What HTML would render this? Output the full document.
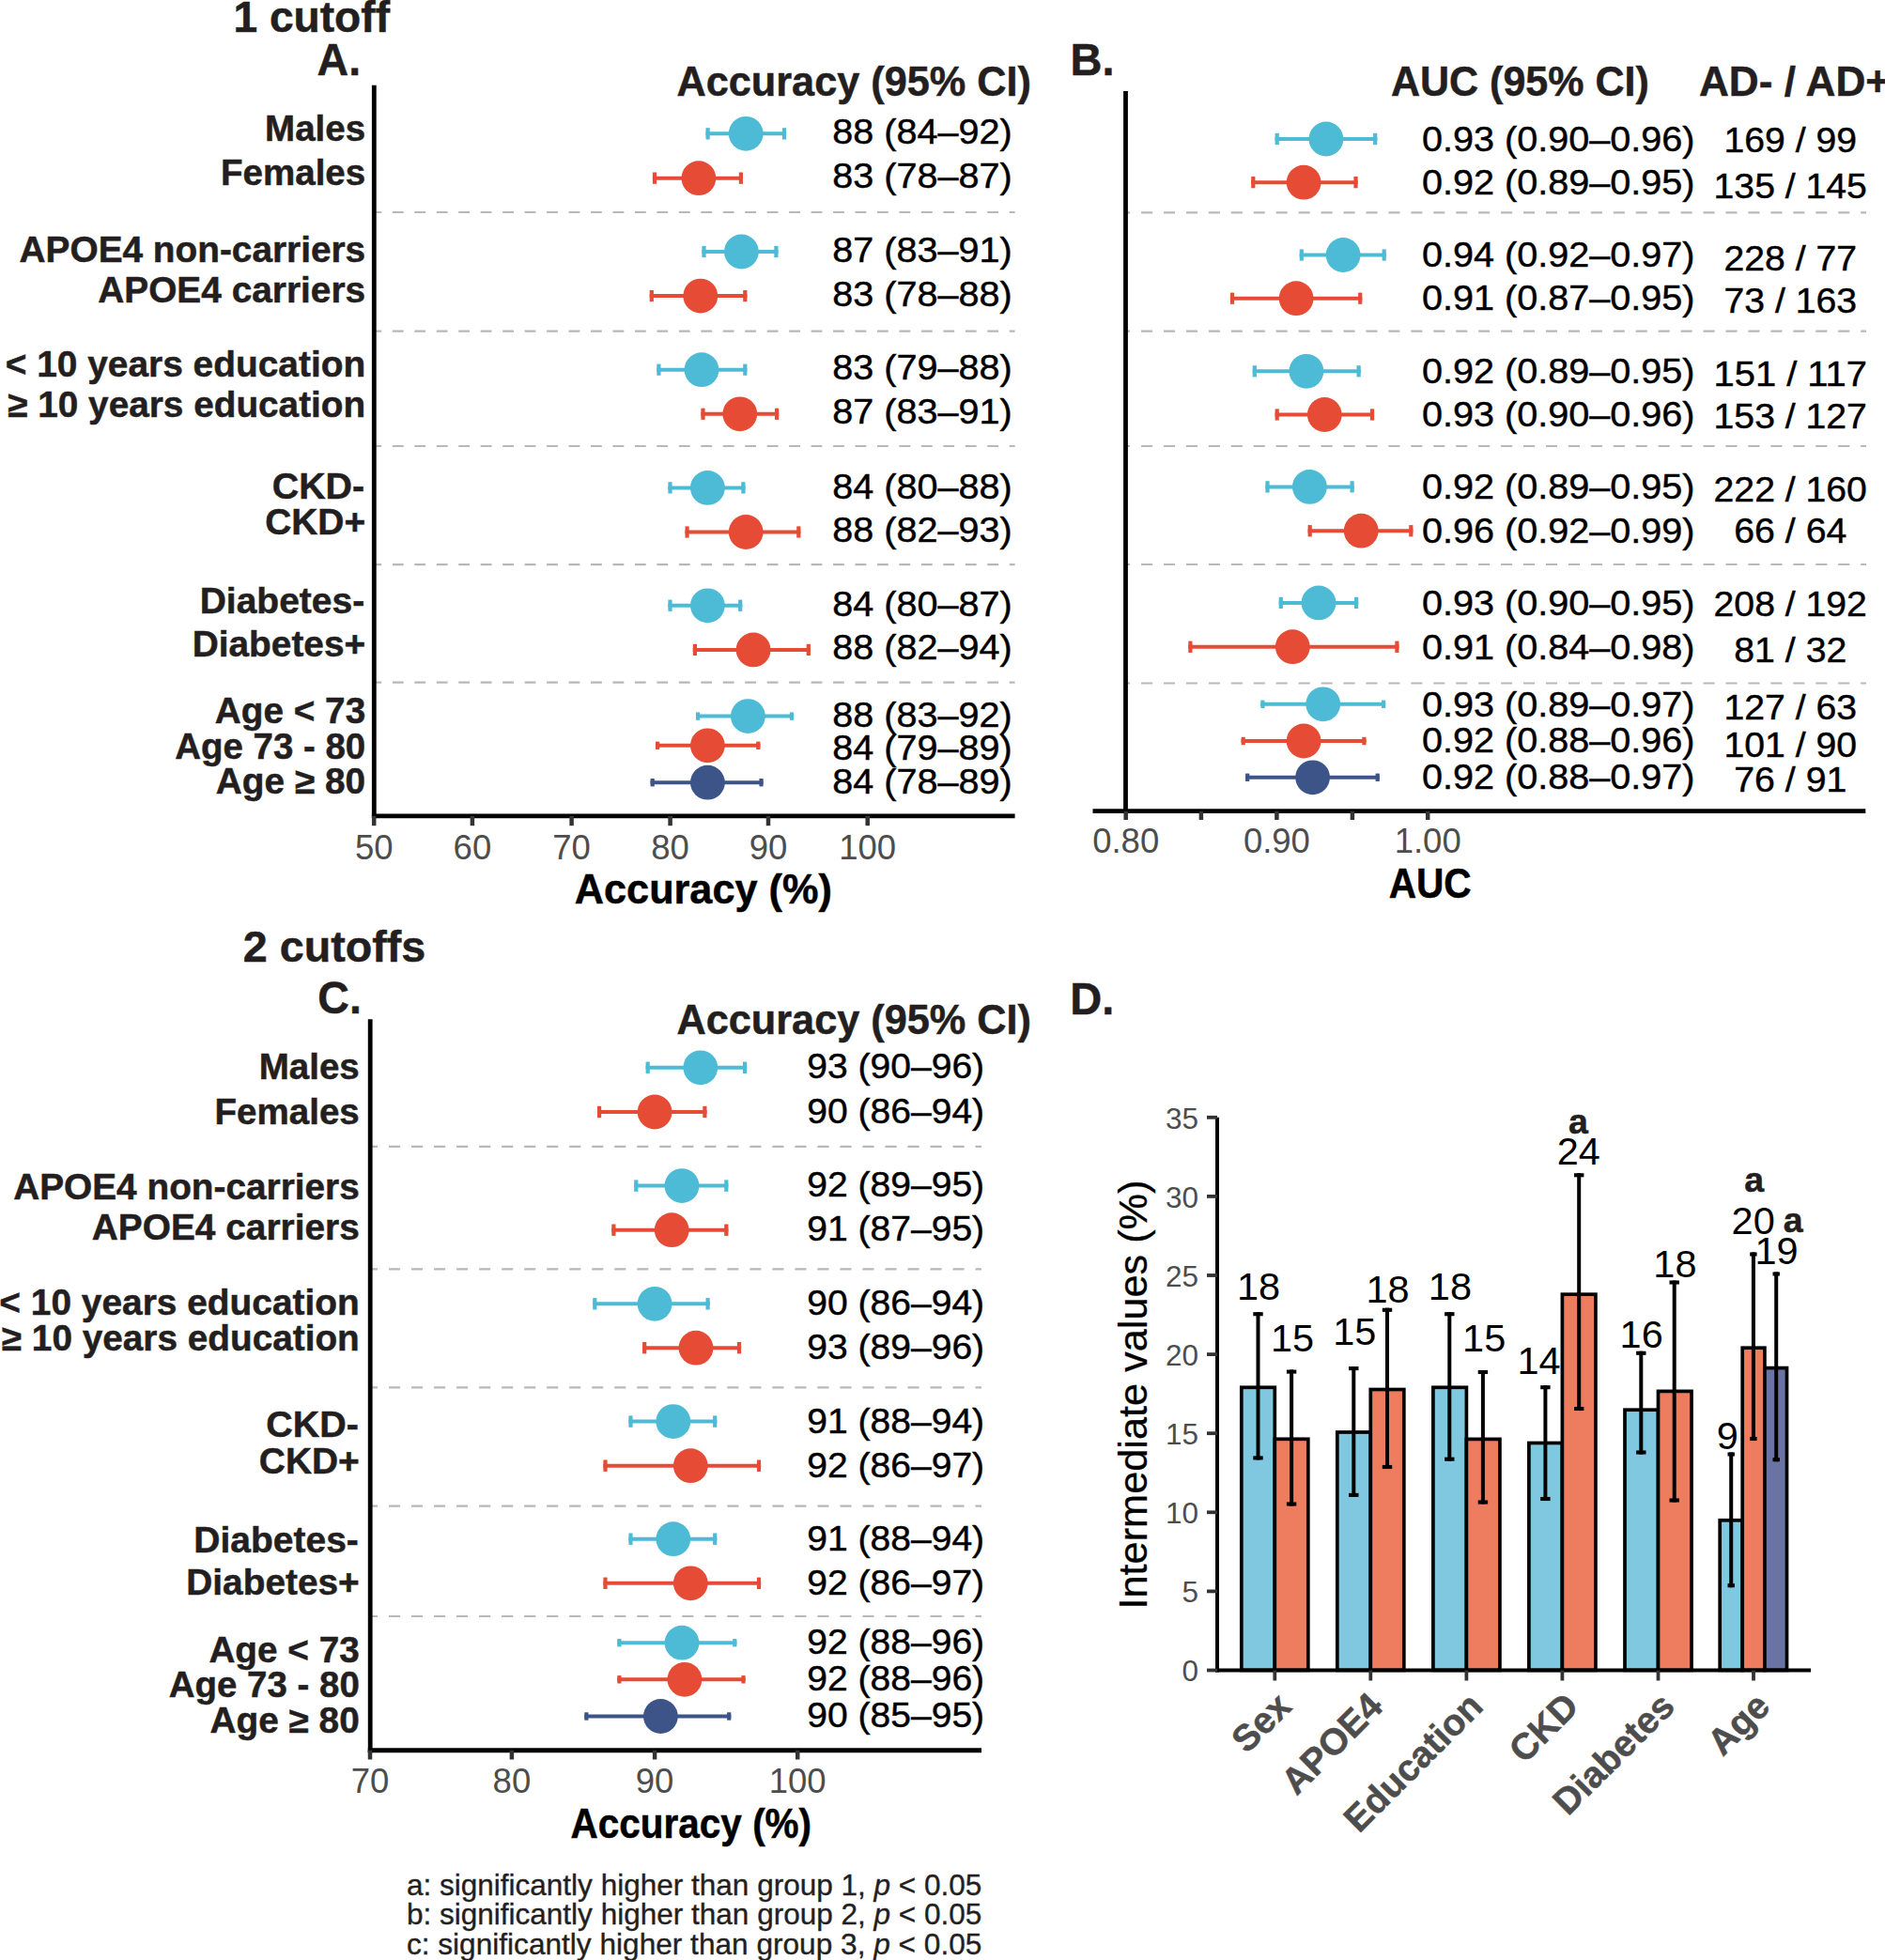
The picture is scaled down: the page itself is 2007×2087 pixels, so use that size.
<!DOCTYPE html>
<html lang="en">
<head>
<meta charset="utf-8">
<title>Figure: subgroup performance</title>
<style>
html,body{margin:0;padding:0;background:#fff;}
body{width:2007px;height:2087px;overflow:hidden;}
svg{display:block;font-family:"Liberation Sans",Arial,Helvetica,sans-serif;}
</style>
</head>
<body>
<svg width="2007" height="2087" viewBox="0 0 2007 2087">
<rect width="2007" height="2087" fill="#fff"/>
<text x="248.5" y="34.4" font-size="45.5" font-weight="700" fill="#231F20" textLength="166.5" lengthAdjust="spacingAndGlyphs" stroke="#231F20" stroke-width="0.5">1 cutoff</text>
<text x="337.6" y="79.6" font-size="47.5" font-weight="700" fill="#231F20" textLength="46.5" lengthAdjust="spacingAndGlyphs" stroke="#231F20" stroke-width="0.5">A.</text>
<text x="720.5" y="102.2" font-size="44" font-weight="700" fill="#231F20" textLength="377.5" lengthAdjust="spacingAndGlyphs" stroke="#231F20" stroke-width="0.5">Accuracy (95% CI)</text>
<text x="282.1" y="149.9" font-size="38.5" font-weight="700" fill="#231F20" textLength="107.1" lengthAdjust="spacingAndGlyphs" stroke="#231F20" stroke-width="0.5">Males</text>
<text x="235.0" y="197.0" font-size="38.5" font-weight="700" fill="#231F20" textLength="154.2" lengthAdjust="spacingAndGlyphs" stroke="#231F20" stroke-width="0.5">Females</text>
<text x="20.6" y="279.2" font-size="38.5" font-weight="700" fill="#231F20" textLength="368.6" lengthAdjust="spacingAndGlyphs" stroke="#231F20" stroke-width="0.5">APOE4 non-carriers</text>
<text x="104.2" y="322.2" font-size="38.5" font-weight="700" fill="#231F20" textLength="285.0" lengthAdjust="spacingAndGlyphs" stroke="#231F20" stroke-width="0.5">APOE4 carriers</text>
<text x="5.7" y="401.1" font-size="38.5" font-weight="700" fill="#231F20" textLength="383.5" lengthAdjust="spacingAndGlyphs" stroke="#231F20" stroke-width="0.5">&lt; 10 years education</text>
<text x="8.2" y="444.1" font-size="38.5" font-weight="700" fill="#231F20" textLength="381.0" lengthAdjust="spacingAndGlyphs" stroke="#231F20" stroke-width="0.5">≥ 10 years education</text>
<text x="289.7" y="530.8" font-size="38.5" font-weight="700" fill="#231F20" textLength="98.5" lengthAdjust="spacingAndGlyphs" stroke="#231F20" stroke-width="0.5">CKD-</text>
<text x="282.2" y="569.4" font-size="38.5" font-weight="700" fill="#231F20" textLength="107.0" lengthAdjust="spacingAndGlyphs" stroke="#231F20" stroke-width="0.5">CKD+</text>
<text x="212.7" y="653.0" font-size="38.5" font-weight="700" fill="#231F20" textLength="175.5" lengthAdjust="spacingAndGlyphs" stroke="#231F20" stroke-width="0.5">Diabetes-</text>
<text x="204.7" y="699.0" font-size="38.5" font-weight="700" fill="#231F20" textLength="184.5" lengthAdjust="spacingAndGlyphs" stroke="#231F20" stroke-width="0.5">Diabetes+</text>
<text x="228.8" y="769.9" font-size="38.5" font-weight="700" fill="#231F20" textLength="160.4" lengthAdjust="spacingAndGlyphs" stroke="#231F20" stroke-width="0.5">Age &lt; 73</text>
<text x="186.2" y="807.8" font-size="38.5" font-weight="700" fill="#231F20" textLength="203.0" lengthAdjust="spacingAndGlyphs" stroke="#231F20" stroke-width="0.5">Age 73 - 80</text>
<text x="229.8" y="845.4" font-size="38.5" font-weight="700" fill="#231F20" textLength="159.4" lengthAdjust="spacingAndGlyphs" stroke="#231F20" stroke-width="0.5">Age ≥ 80</text>
<line x1="398.3" y1="226.0" x2="1080.6" y2="226.0" stroke="#B8B8B8" stroke-width="2.2" stroke-dasharray="11.83 11.63" stroke-dashoffset="3.90"/>
<line x1="398.3" y1="352.7" x2="1080.6" y2="352.7" stroke="#B8B8B8" stroke-width="2.2" stroke-dasharray="11.83 11.63" stroke-dashoffset="3.90"/>
<line x1="398.3" y1="475.0" x2="1080.6" y2="475.0" stroke="#B8B8B8" stroke-width="2.2" stroke-dasharray="11.83 11.63" stroke-dashoffset="3.90"/>
<line x1="398.3" y1="601.2" x2="1080.6" y2="601.2" stroke="#B8B8B8" stroke-width="2.2" stroke-dasharray="11.83 11.63" stroke-dashoffset="3.90"/>
<line x1="398.3" y1="726.6" x2="1080.6" y2="726.6" stroke="#B8B8B8" stroke-width="2.2" stroke-dasharray="11.83 11.63" stroke-dashoffset="3.90"/>
<line x1="751.5" y1="142.3" x2="837.1" y2="142.3" stroke="#4DBBD5" stroke-width="4.0"/>
<line x1="753.6" y1="136.2" x2="753.6" y2="148.5" stroke="#4DBBD5" stroke-width="4.2"/>
<line x1="835.0" y1="136.2" x2="835.0" y2="148.5" stroke="#4DBBD5" stroke-width="4.2"/>
<circle cx="794.2" cy="142.3" r="18.4" fill="#4DBBD5"/>
<line x1="694.9" y1="189.7" x2="791.0" y2="189.7" stroke="#E64B35" stroke-width="4.0"/>
<line x1="697.0" y1="183.5" x2="697.0" y2="195.8" stroke="#E64B35" stroke-width="4.2"/>
<line x1="788.9" y1="183.5" x2="788.9" y2="195.8" stroke="#E64B35" stroke-width="4.2"/>
<circle cx="743.9" cy="189.7" r="18.4" fill="#E64B35"/>
<line x1="747.4" y1="268.0" x2="828.5" y2="268.0" stroke="#4DBBD5" stroke-width="4.0"/>
<line x1="749.5" y1="261.9" x2="749.5" y2="274.1" stroke="#4DBBD5" stroke-width="4.2"/>
<line x1="826.4" y1="261.9" x2="826.4" y2="274.1" stroke="#4DBBD5" stroke-width="4.2"/>
<circle cx="789.4" cy="268.0" r="18.4" fill="#4DBBD5"/>
<line x1="691.7" y1="315.1" x2="795.4" y2="315.1" stroke="#E64B35" stroke-width="4.0"/>
<line x1="693.8" y1="309.0" x2="693.8" y2="321.2" stroke="#E64B35" stroke-width="4.2"/>
<line x1="793.3" y1="309.0" x2="793.3" y2="321.2" stroke="#E64B35" stroke-width="4.2"/>
<circle cx="745.8" cy="315.1" r="18.4" fill="#E64B35"/>
<line x1="699.3" y1="393.7" x2="795.4" y2="393.7" stroke="#4DBBD5" stroke-width="4.0"/>
<line x1="701.4" y1="387.6" x2="701.4" y2="399.8" stroke="#4DBBD5" stroke-width="4.2"/>
<line x1="793.3" y1="387.6" x2="793.3" y2="399.8" stroke="#4DBBD5" stroke-width="4.2"/>
<circle cx="747.0" cy="393.7" r="18.4" fill="#4DBBD5"/>
<line x1="746.4" y1="440.8" x2="829.2" y2="440.8" stroke="#E64B35" stroke-width="4.0"/>
<line x1="748.5" y1="434.7" x2="748.5" y2="446.9" stroke="#E64B35" stroke-width="4.2"/>
<line x1="827.1" y1="434.7" x2="827.1" y2="446.9" stroke="#E64B35" stroke-width="4.2"/>
<circle cx="787.8" cy="440.8" r="18.4" fill="#E64B35"/>
<line x1="711.4" y1="519.4" x2="793.5" y2="519.4" stroke="#4DBBD5" stroke-width="4.0"/>
<line x1="713.5" y1="513.2" x2="713.5" y2="525.5" stroke="#4DBBD5" stroke-width="4.2"/>
<line x1="791.4" y1="513.2" x2="791.4" y2="525.5" stroke="#4DBBD5" stroke-width="4.2"/>
<circle cx="753.4" cy="519.4" r="18.4" fill="#4DBBD5"/>
<line x1="729.5" y1="566.5" x2="852.4" y2="566.5" stroke="#E64B35" stroke-width="4.0"/>
<line x1="731.6" y1="560.4" x2="731.6" y2="572.6" stroke="#E64B35" stroke-width="4.2"/>
<line x1="850.3" y1="560.4" x2="850.3" y2="572.6" stroke="#E64B35" stroke-width="4.2"/>
<circle cx="794.2" cy="566.5" r="18.4" fill="#E64B35"/>
<line x1="711.4" y1="644.8" x2="790.3" y2="644.8" stroke="#4DBBD5" stroke-width="4.0"/>
<line x1="713.5" y1="638.6" x2="713.5" y2="650.9" stroke="#4DBBD5" stroke-width="4.2"/>
<line x1="788.2" y1="638.6" x2="788.2" y2="650.9" stroke="#4DBBD5" stroke-width="4.2"/>
<circle cx="753.4" cy="644.8" r="18.4" fill="#4DBBD5"/>
<line x1="737.8" y1="691.9" x2="862.9" y2="691.9" stroke="#E64B35" stroke-width="4.0"/>
<line x1="739.9" y1="685.8" x2="739.9" y2="698.0" stroke="#E64B35" stroke-width="4.2"/>
<line x1="860.8" y1="685.8" x2="860.8" y2="698.0" stroke="#E64B35" stroke-width="4.2"/>
<circle cx="802.1" cy="691.9" r="18.4" fill="#E64B35"/>
<line x1="741.0" y1="762.6" x2="845.1" y2="762.6" stroke="#4DBBD5" stroke-width="4.0"/>
<line x1="743.1" y1="758.4" x2="743.1" y2="766.8" stroke="#4DBBD5" stroke-width="4.2"/>
<line x1="843.0" y1="758.4" x2="843.0" y2="766.8" stroke="#4DBBD5" stroke-width="4.2"/>
<circle cx="796.4" cy="762.6" r="18.4" fill="#4DBBD5"/>
<line x1="698.0" y1="793.8" x2="809.4" y2="793.8" stroke="#E64B35" stroke-width="4.0"/>
<line x1="700.1" y1="789.6" x2="700.1" y2="798.0" stroke="#E64B35" stroke-width="4.2"/>
<line x1="807.3" y1="789.6" x2="807.3" y2="798.0" stroke="#E64B35" stroke-width="4.2"/>
<circle cx="753.4" cy="793.8" r="18.4" fill="#E64B35"/>
<line x1="692.6" y1="833.2" x2="812.6" y2="833.2" stroke="#3C5488" stroke-width="4.0"/>
<line x1="694.7" y1="829.0" x2="694.7" y2="837.4" stroke="#3C5488" stroke-width="4.2"/>
<line x1="810.5" y1="829.0" x2="810.5" y2="837.4" stroke="#3C5488" stroke-width="4.2"/>
<circle cx="753.4" cy="833.2" r="18.4" fill="#3C5488"/>
<text x="886.2" y="153.1" font-size="37.5" font-weight="400" fill="#000" textLength="191.5" lengthAdjust="spacingAndGlyphs" stroke="#000" stroke-width="0.45">88 (84–92)</text>
<text x="886.2" y="200.2" font-size="37.5" font-weight="400" fill="#000" textLength="191.5" lengthAdjust="spacingAndGlyphs" stroke="#000" stroke-width="0.45">83 (78–87)</text>
<text x="886.2" y="278.8" font-size="37.5" font-weight="400" fill="#000" textLength="191.5" lengthAdjust="spacingAndGlyphs" stroke="#000" stroke-width="0.45">87 (83–91)</text>
<text x="886.2" y="325.6" font-size="37.5" font-weight="400" fill="#000" textLength="191.5" lengthAdjust="spacingAndGlyphs" stroke="#000" stroke-width="0.45">83 (78–88)</text>
<text x="886.2" y="403.6" font-size="37.5" font-weight="400" fill="#000" textLength="191.5" lengthAdjust="spacingAndGlyphs" stroke="#000" stroke-width="0.45">83 (79–88)</text>
<text x="886.2" y="450.7" font-size="37.5" font-weight="400" fill="#000" textLength="191.5" lengthAdjust="spacingAndGlyphs" stroke="#000" stroke-width="0.45">87 (83–91)</text>
<text x="886.2" y="530.5" font-size="37.5" font-weight="400" fill="#000" textLength="191.5" lengthAdjust="spacingAndGlyphs" stroke="#000" stroke-width="0.45">84 (80–88)</text>
<text x="886.2" y="577.0" font-size="37.5" font-weight="400" fill="#000" textLength="191.5" lengthAdjust="spacingAndGlyphs" stroke="#000" stroke-width="0.45">88 (82–93)</text>
<text x="886.2" y="655.6" font-size="37.5" font-weight="400" fill="#000" textLength="191.5" lengthAdjust="spacingAndGlyphs" stroke="#000" stroke-width="0.45">84 (80–87)</text>
<text x="886.2" y="702.4" font-size="37.5" font-weight="400" fill="#000" textLength="191.5" lengthAdjust="spacingAndGlyphs" stroke="#000" stroke-width="0.45">88 (82–94)</text>
<text x="886.2" y="773.9" font-size="37.5" font-weight="400" fill="#000" textLength="191.5" lengthAdjust="spacingAndGlyphs" stroke="#000" stroke-width="0.45">88 (83–92)</text>
<text x="886.2" y="808.9" font-size="37.5" font-weight="400" fill="#000" textLength="191.5" lengthAdjust="spacingAndGlyphs" stroke="#000" stroke-width="0.45">84 (79–89)</text>
<text x="886.2" y="844.6" font-size="37.5" font-weight="400" fill="#000" textLength="191.5" lengthAdjust="spacingAndGlyphs" stroke="#000" stroke-width="0.45">84 (78–89)</text>
<line x1="398.3" y1="90.7" x2="398.3" y2="871.3" stroke="#000" stroke-width="4.8"/>
<line x1="395.9" y1="868.9" x2="1080.6" y2="868.9" stroke="#000" stroke-width="4.8"/>
<line x1="398.2" y1="868.9" x2="398.2" y2="879.2" stroke="#333" stroke-width="4.5"/>
<text x="398.2" y="915.2" font-size="36.5" font-weight="400" fill="#4D4D4D" text-anchor="middle">50</text>
<line x1="502.9" y1="868.9" x2="502.9" y2="879.2" stroke="#333" stroke-width="4.5"/>
<text x="502.9" y="915.2" font-size="36.5" font-weight="400" fill="#4D4D4D" text-anchor="middle">60</text>
<line x1="608.6" y1="868.9" x2="608.6" y2="879.2" stroke="#333" stroke-width="4.5"/>
<text x="608.6" y="915.2" font-size="36.5" font-weight="400" fill="#4D4D4D" text-anchor="middle">70</text>
<line x1="713.6" y1="868.9" x2="713.6" y2="879.2" stroke="#333" stroke-width="4.5"/>
<text x="713.6" y="915.2" font-size="36.5" font-weight="400" fill="#4D4D4D" text-anchor="middle">80</text>
<line x1="818.0" y1="868.9" x2="818.0" y2="879.2" stroke="#333" stroke-width="4.5"/>
<text x="818.0" y="915.2" font-size="36.5" font-weight="400" fill="#4D4D4D" text-anchor="middle">90</text>
<line x1="923.7" y1="868.9" x2="923.7" y2="879.2" stroke="#333" stroke-width="4.5"/>
<text x="923.7" y="915.2" font-size="36.5" font-weight="400" fill="#4D4D4D" text-anchor="middle">100</text>
<text x="611.8" y="962.3" font-size="44" font-weight="700" fill="#000" textLength="274.0" lengthAdjust="spacingAndGlyphs" stroke="#000" stroke-width="0.5">Accuracy (%)</text>
<text x="1139.5" y="79.6" font-size="47.5" font-weight="700" fill="#231F20" textLength="47.0" lengthAdjust="spacingAndGlyphs" stroke="#231F20" stroke-width="0.5">B.</text>
<text x="1481.0" y="101.9" font-size="44" font-weight="700" fill="#231F20" textLength="274.8" lengthAdjust="spacingAndGlyphs" stroke="#231F20" stroke-width="0.5">AUC (95% CI)</text>
<text x="1809.0" y="101.9" font-size="44" font-weight="700" fill="#231F20" textLength="203.0" lengthAdjust="spacingAndGlyphs" stroke="#231F20" stroke-width="0.5">AD- / AD+</text>
<line x1="1198.5" y1="226.3" x2="1987.0" y2="226.3" stroke="#B8B8B8" stroke-width="2.2" stroke-dasharray="12.07 11.87" stroke-dashoffset="7.40"/>
<line x1="1198.5" y1="352.6" x2="1987.0" y2="352.6" stroke="#B8B8B8" stroke-width="2.2" stroke-dasharray="12.07 11.87" stroke-dashoffset="7.40"/>
<line x1="1198.5" y1="475.0" x2="1987.0" y2="475.0" stroke="#B8B8B8" stroke-width="2.2" stroke-dasharray="12.07 11.87" stroke-dashoffset="7.40"/>
<line x1="1198.5" y1="601.0" x2="1987.0" y2="601.0" stroke="#B8B8B8" stroke-width="2.2" stroke-dasharray="12.07 11.87" stroke-dashoffset="7.40"/>
<line x1="1198.5" y1="727.5" x2="1987.0" y2="727.5" stroke="#B8B8B8" stroke-width="2.2" stroke-dasharray="12.07 11.87" stroke-dashoffset="7.40"/>
<line x1="1357.6" y1="148.0" x2="1466.3" y2="148.0" stroke="#4DBBD5" stroke-width="4.0"/>
<line x1="1359.7" y1="141.8" x2="1359.7" y2="154.2" stroke="#4DBBD5" stroke-width="4.2"/>
<line x1="1464.2" y1="141.8" x2="1464.2" y2="154.2" stroke="#4DBBD5" stroke-width="4.2"/>
<circle cx="1411.9" cy="148.0" r="18.4" fill="#4DBBD5"/>
<line x1="1332.2" y1="194.2" x2="1445.6" y2="194.2" stroke="#E64B35" stroke-width="4.0"/>
<line x1="1334.3" y1="188.0" x2="1334.3" y2="200.3" stroke="#E64B35" stroke-width="4.2"/>
<line x1="1443.5" y1="188.0" x2="1443.5" y2="200.3" stroke="#E64B35" stroke-width="4.2"/>
<circle cx="1388.1" cy="194.2" r="18.4" fill="#E64B35"/>
<line x1="1383.7" y1="271.5" x2="1475.8" y2="271.5" stroke="#4DBBD5" stroke-width="4.0"/>
<line x1="1385.8" y1="265.4" x2="1385.8" y2="277.6" stroke="#4DBBD5" stroke-width="4.2"/>
<line x1="1473.7" y1="265.4" x2="1473.7" y2="277.6" stroke="#4DBBD5" stroke-width="4.2"/>
<circle cx="1430.1" cy="271.5" r="18.4" fill="#4DBBD5"/>
<line x1="1309.9" y1="317.7" x2="1450.3" y2="317.7" stroke="#E64B35" stroke-width="4.0"/>
<line x1="1312.0" y1="311.6" x2="1312.0" y2="323.8" stroke="#E64B35" stroke-width="4.2"/>
<line x1="1448.2" y1="311.6" x2="1448.2" y2="323.8" stroke="#E64B35" stroke-width="4.2"/>
<circle cx="1380.1" cy="317.7" r="18.4" fill="#E64B35"/>
<line x1="1333.7" y1="395.3" x2="1448.7" y2="395.3" stroke="#4DBBD5" stroke-width="4.0"/>
<line x1="1335.8" y1="389.2" x2="1335.8" y2="401.4" stroke="#4DBBD5" stroke-width="4.2"/>
<line x1="1446.6" y1="389.2" x2="1446.6" y2="401.4" stroke="#4DBBD5" stroke-width="4.2"/>
<circle cx="1390.9" cy="395.3" r="18.4" fill="#4DBBD5"/>
<line x1="1357.6" y1="441.5" x2="1463.1" y2="441.5" stroke="#E64B35" stroke-width="4.0"/>
<line x1="1359.7" y1="435.4" x2="1359.7" y2="447.6" stroke="#E64B35" stroke-width="4.2"/>
<line x1="1461.0" y1="435.4" x2="1461.0" y2="447.6" stroke="#E64B35" stroke-width="4.2"/>
<circle cx="1410.3" cy="441.5" r="18.4" fill="#E64B35"/>
<line x1="1347.4" y1="518.4" x2="1441.7" y2="518.4" stroke="#4DBBD5" stroke-width="4.0"/>
<line x1="1349.5" y1="512.2" x2="1349.5" y2="524.5" stroke="#4DBBD5" stroke-width="4.2"/>
<line x1="1439.6" y1="512.2" x2="1439.6" y2="524.5" stroke="#4DBBD5" stroke-width="4.2"/>
<circle cx="1394.4" cy="518.4" r="18.4" fill="#4DBBD5"/>
<line x1="1392.6" y1="565.2" x2="1504.4" y2="565.2" stroke="#E64B35" stroke-width="4.0"/>
<line x1="1394.7" y1="559.1" x2="1394.7" y2="571.4" stroke="#E64B35" stroke-width="4.2"/>
<line x1="1502.3" y1="559.1" x2="1502.3" y2="571.4" stroke="#E64B35" stroke-width="4.2"/>
<circle cx="1449.2" cy="565.2" r="18.4" fill="#E64B35"/>
<line x1="1361.7" y1="641.9" x2="1446.2" y2="641.9" stroke="#4DBBD5" stroke-width="4.0"/>
<line x1="1363.8" y1="635.8" x2="1363.8" y2="648.0" stroke="#4DBBD5" stroke-width="4.2"/>
<line x1="1444.1" y1="635.8" x2="1444.1" y2="648.0" stroke="#4DBBD5" stroke-width="4.2"/>
<circle cx="1404.0" cy="641.9" r="18.4" fill="#4DBBD5"/>
<line x1="1265.3" y1="688.7" x2="1489.5" y2="688.7" stroke="#E64B35" stroke-width="4.0"/>
<line x1="1267.4" y1="682.6" x2="1267.4" y2="694.9" stroke="#E64B35" stroke-width="4.2"/>
<line x1="1487.4" y1="682.6" x2="1487.4" y2="694.9" stroke="#E64B35" stroke-width="4.2"/>
<circle cx="1376.3" cy="688.7" r="18.4" fill="#E64B35"/>
<line x1="1342.3" y1="749.8" x2="1475.2" y2="749.8" stroke="#4DBBD5" stroke-width="4.0"/>
<line x1="1344.4" y1="745.6" x2="1344.4" y2="754.0" stroke="#4DBBD5" stroke-width="4.2"/>
<line x1="1473.1" y1="745.6" x2="1473.1" y2="754.0" stroke="#4DBBD5" stroke-width="4.2"/>
<circle cx="1408.7" cy="749.8" r="18.4" fill="#4DBBD5"/>
<line x1="1321.6" y1="789.0" x2="1454.5" y2="789.0" stroke="#E64B35" stroke-width="4.0"/>
<line x1="1323.7" y1="784.8" x2="1323.7" y2="793.2" stroke="#E64B35" stroke-width="4.2"/>
<line x1="1452.4" y1="784.8" x2="1452.4" y2="793.2" stroke="#E64B35" stroke-width="4.2"/>
<circle cx="1388.1" cy="789.0" r="18.4" fill="#E64B35"/>
<line x1="1326.1" y1="827.8" x2="1468.8" y2="827.8" stroke="#3C5488" stroke-width="4.0"/>
<line x1="1328.2" y1="823.6" x2="1328.2" y2="832.0" stroke="#3C5488" stroke-width="4.2"/>
<line x1="1466.7" y1="823.6" x2="1466.7" y2="832.0" stroke="#3C5488" stroke-width="4.2"/>
<circle cx="1397.6" cy="827.8" r="18.4" fill="#3C5488"/>
<text x="1514.0" y="160.6" font-size="37.5" font-weight="400" fill="#000" textLength="290.5" lengthAdjust="spacingAndGlyphs" stroke="#000" stroke-width="0.45">0.93 (0.90–0.96)</text>
<text x="1514.0" y="206.5" font-size="37.5" font-weight="400" fill="#000" textLength="290.5" lengthAdjust="spacingAndGlyphs" stroke="#000" stroke-width="0.45">0.92 (0.89–0.95)</text>
<text x="1514.0" y="284.4" font-size="37.5" font-weight="400" fill="#000" textLength="290.5" lengthAdjust="spacingAndGlyphs" stroke="#000" stroke-width="0.45">0.94 (0.92–0.97)</text>
<text x="1514.0" y="330.3" font-size="37.5" font-weight="400" fill="#000" textLength="290.5" lengthAdjust="spacingAndGlyphs" stroke="#000" stroke-width="0.45">0.91 (0.87–0.95)</text>
<text x="1514.0" y="408.3" font-size="37.5" font-weight="400" fill="#000" textLength="290.5" lengthAdjust="spacingAndGlyphs" stroke="#000" stroke-width="0.45">0.92 (0.89–0.95)</text>
<text x="1514.0" y="454.4" font-size="37.5" font-weight="400" fill="#000" textLength="290.5" lengthAdjust="spacingAndGlyphs" stroke="#000" stroke-width="0.45">0.93 (0.90–0.96)</text>
<text x="1514.0" y="530.9" font-size="37.5" font-weight="400" fill="#000" textLength="290.5" lengthAdjust="spacingAndGlyphs" stroke="#000" stroke-width="0.45">0.92 (0.89–0.95)</text>
<text x="1514.0" y="577.6" font-size="37.5" font-weight="400" fill="#000" textLength="290.5" lengthAdjust="spacingAndGlyphs" stroke="#000" stroke-width="0.45">0.96 (0.92–0.99)</text>
<text x="1514.0" y="654.7" font-size="37.5" font-weight="400" fill="#000" textLength="290.5" lengthAdjust="spacingAndGlyphs" stroke="#000" stroke-width="0.45">0.93 (0.90–0.95)</text>
<text x="1514.0" y="701.7" font-size="37.5" font-weight="400" fill="#000" textLength="290.5" lengthAdjust="spacingAndGlyphs" stroke="#000" stroke-width="0.45">0.91 (0.84–0.98)</text>
<text x="1514.0" y="762.5" font-size="37.5" font-weight="400" fill="#000" textLength="290.5" lengthAdjust="spacingAndGlyphs" stroke="#000" stroke-width="0.45">0.93 (0.89–0.97)</text>
<text x="1514.0" y="801.3" font-size="37.5" font-weight="400" fill="#000" textLength="290.5" lengthAdjust="spacingAndGlyphs" stroke="#000" stroke-width="0.45">0.92 (0.88–0.96)</text>
<text x="1514.0" y="839.7" font-size="37.5" font-weight="400" fill="#000" textLength="290.5" lengthAdjust="spacingAndGlyphs" stroke="#000" stroke-width="0.45">0.92 (0.88–0.97)</text>
<text x="1835.5" y="162.0" font-size="37.5" font-weight="400" fill="#000" textLength="141.5" lengthAdjust="spacingAndGlyphs" stroke="#000" stroke-width="0.45">169 / 99</text>
<text x="1824.6" y="210.8" font-size="37.5" font-weight="400" fill="#000" textLength="163.3" lengthAdjust="spacingAndGlyphs" stroke="#000" stroke-width="0.45">135 / 145</text>
<text x="1835.5" y="287.6" font-size="37.5" font-weight="400" fill="#000" textLength="141.5" lengthAdjust="spacingAndGlyphs" stroke="#000" stroke-width="0.45">228 / 77</text>
<text x="1835.5" y="332.5" font-size="37.5" font-weight="400" fill="#000" textLength="141.5" lengthAdjust="spacingAndGlyphs" stroke="#000" stroke-width="0.45">73 / 163</text>
<text x="1824.6" y="410.8" font-size="37.5" font-weight="400" fill="#000" textLength="163.3" lengthAdjust="spacingAndGlyphs" stroke="#000" stroke-width="0.45">151 / 117</text>
<text x="1824.6" y="456.0" font-size="37.5" font-weight="400" fill="#000" textLength="163.3" lengthAdjust="spacingAndGlyphs" stroke="#000" stroke-width="0.45">153 / 127</text>
<text x="1824.6" y="533.7" font-size="37.5" font-weight="400" fill="#000" textLength="163.3" lengthAdjust="spacingAndGlyphs" stroke="#000" stroke-width="0.45">222 / 160</text>
<text x="1846.3" y="578.1" font-size="37.5" font-weight="400" fill="#000" textLength="120.0" lengthAdjust="spacingAndGlyphs" stroke="#000" stroke-width="0.45">66 / 64</text>
<text x="1824.6" y="655.5" font-size="37.5" font-weight="400" fill="#000" textLength="163.3" lengthAdjust="spacingAndGlyphs" stroke="#000" stroke-width="0.45">208 / 192</text>
<text x="1846.3" y="704.5" font-size="37.5" font-weight="400" fill="#000" textLength="120.0" lengthAdjust="spacingAndGlyphs" stroke="#000" stroke-width="0.45">81 / 32</text>
<text x="1835.5" y="765.7" font-size="37.5" font-weight="400" fill="#000" textLength="141.5" lengthAdjust="spacingAndGlyphs" stroke="#000" stroke-width="0.45">127 / 63</text>
<text x="1835.5" y="805.6" font-size="37.5" font-weight="400" fill="#000" textLength="141.5" lengthAdjust="spacingAndGlyphs" stroke="#000" stroke-width="0.45">101 / 90</text>
<text x="1846.3" y="842.5" font-size="37.5" font-weight="400" fill="#000" textLength="120.0" lengthAdjust="spacingAndGlyphs" stroke="#000" stroke-width="0.45">76 / 91</text>
<line x1="1198.5" y1="97.0" x2="1198.5" y2="866.1" stroke="#000" stroke-width="4.8"/>
<line x1="1163.5" y1="863.7" x2="1986.3" y2="863.7" stroke="#000" stroke-width="4.8"/>
<line x1="1198.7" y1="863.7" x2="1198.7" y2="873.0" stroke="#333" stroke-width="4.5"/>
<text x="1198.7" y="907.9" font-size="36.5" font-weight="400" fill="#4D4D4D" text-anchor="middle">0.80</text>
<line x1="1278.9" y1="863.7" x2="1278.9" y2="873.0" stroke="#333" stroke-width="4.5"/>
<line x1="1359.4" y1="863.7" x2="1359.4" y2="873.0" stroke="#333" stroke-width="4.5"/>
<text x="1359.4" y="907.9" font-size="36.5" font-weight="400" fill="#4D4D4D" text-anchor="middle">0.90</text>
<line x1="1439.9" y1="863.7" x2="1439.9" y2="873.0" stroke="#333" stroke-width="4.5"/>
<line x1="1520.2" y1="863.7" x2="1520.2" y2="873.0" stroke="#333" stroke-width="4.5"/>
<text x="1520.2" y="907.9" font-size="36.5" font-weight="400" fill="#4D4D4D" text-anchor="middle">1.00</text>
<text x="1478.7" y="955.9" font-size="44" font-weight="700" fill="#000" textLength="88.0" lengthAdjust="spacingAndGlyphs" stroke="#000" stroke-width="0.5">AUC</text>
<text x="258.8" y="1024.0" font-size="45.5" font-weight="700" fill="#231F20" textLength="194.5" lengthAdjust="spacingAndGlyphs" stroke="#231F20" stroke-width="0.5">2 cutoffs</text>
<text x="338.3" y="1078.9" font-size="47.5" font-weight="700" fill="#231F20" textLength="46.5" lengthAdjust="spacingAndGlyphs" stroke="#231F20" stroke-width="0.5">C.</text>
<text x="720.5" y="1100.5" font-size="44" font-weight="700" fill="#231F20" textLength="377.5" lengthAdjust="spacingAndGlyphs" stroke="#231F20" stroke-width="0.5">Accuracy (95% CI)</text>
<text x="1139.3" y="1079.5" font-size="47.5" font-weight="700" fill="#231F20" textLength="47.0" lengthAdjust="spacingAndGlyphs" stroke="#231F20" stroke-width="0.5">D.</text>
<text x="275.7" y="1149.4" font-size="38.5" font-weight="700" fill="#231F20" textLength="107.1" lengthAdjust="spacingAndGlyphs" stroke="#231F20" stroke-width="0.5">Males</text>
<text x="228.6" y="1196.5" font-size="38.5" font-weight="700" fill="#231F20" textLength="154.2" lengthAdjust="spacingAndGlyphs" stroke="#231F20" stroke-width="0.5">Females</text>
<text x="14.2" y="1277.4" font-size="38.5" font-weight="700" fill="#231F20" textLength="368.6" lengthAdjust="spacingAndGlyphs" stroke="#231F20" stroke-width="0.5">APOE4 non-carriers</text>
<text x="97.8" y="1320.4" font-size="38.5" font-weight="700" fill="#231F20" textLength="285.0" lengthAdjust="spacingAndGlyphs" stroke="#231F20" stroke-width="0.5">APOE4 carriers</text>
<text x="-0.7" y="1400.3" font-size="38.5" font-weight="700" fill="#231F20" textLength="383.5" lengthAdjust="spacingAndGlyphs" stroke="#231F20" stroke-width="0.5">&lt; 10 years education</text>
<text x="1.8" y="1438.1" font-size="38.5" font-weight="700" fill="#231F20" textLength="381.0" lengthAdjust="spacingAndGlyphs" stroke="#231F20" stroke-width="0.5">≥ 10 years education</text>
<text x="283.3" y="1530.1" font-size="38.5" font-weight="700" fill="#231F20" textLength="98.5" lengthAdjust="spacingAndGlyphs" stroke="#231F20" stroke-width="0.5">CKD-</text>
<text x="275.8" y="1569.4" font-size="38.5" font-weight="700" fill="#231F20" textLength="107.0" lengthAdjust="spacingAndGlyphs" stroke="#231F20" stroke-width="0.5">CKD+</text>
<text x="206.3" y="1652.6" font-size="38.5" font-weight="700" fill="#231F20" textLength="175.5" lengthAdjust="spacingAndGlyphs" stroke="#231F20" stroke-width="0.5">Diabetes-</text>
<text x="198.3" y="1698.1" font-size="38.5" font-weight="700" fill="#231F20" textLength="184.5" lengthAdjust="spacingAndGlyphs" stroke="#231F20" stroke-width="0.5">Diabetes+</text>
<text x="222.4" y="1769.7" font-size="38.5" font-weight="700" fill="#231F20" textLength="160.4" lengthAdjust="spacingAndGlyphs" stroke="#231F20" stroke-width="0.5">Age &lt; 73</text>
<text x="179.8" y="1807.3" font-size="38.5" font-weight="700" fill="#231F20" textLength="203.0" lengthAdjust="spacingAndGlyphs" stroke="#231F20" stroke-width="0.5">Age 73 - 80</text>
<text x="223.4" y="1844.5" font-size="38.5" font-weight="700" fill="#231F20" textLength="159.4" lengthAdjust="spacingAndGlyphs" stroke="#231F20" stroke-width="0.5">Age ≥ 80</text>
<line x1="394.2" y1="1220.9" x2="1045.0" y2="1220.9" stroke="#B8B8B8" stroke-width="2.2" stroke-dasharray="12.11 11.91" stroke-dashoffset="4.20"/>
<line x1="394.2" y1="1351.4" x2="1045.0" y2="1351.4" stroke="#B8B8B8" stroke-width="2.2" stroke-dasharray="12.11 11.91" stroke-dashoffset="4.20"/>
<line x1="394.2" y1="1477.3" x2="1045.0" y2="1477.3" stroke="#B8B8B8" stroke-width="2.2" stroke-dasharray="12.11 11.91" stroke-dashoffset="4.20"/>
<line x1="394.2" y1="1603.7" x2="1045.0" y2="1603.7" stroke="#B8B8B8" stroke-width="2.2" stroke-dasharray="12.11 11.91" stroke-dashoffset="4.20"/>
<line x1="394.2" y1="1721.0" x2="1045.0" y2="1721.0" stroke="#B8B8B8" stroke-width="2.2" stroke-dasharray="12.11 11.91" stroke-dashoffset="4.20"/>
<line x1="687.6" y1="1136.8" x2="795.2" y2="1136.8" stroke="#4DBBD5" stroke-width="4.0"/>
<line x1="689.7" y1="1130.6" x2="689.7" y2="1143.0" stroke="#4DBBD5" stroke-width="4.2"/>
<line x1="793.1" y1="1130.6" x2="793.1" y2="1143.0" stroke="#4DBBD5" stroke-width="4.2"/>
<circle cx="745.8" cy="1136.8" r="18.4" fill="#4DBBD5"/>
<line x1="636.0" y1="1184.0" x2="752.5" y2="1184.0" stroke="#E64B35" stroke-width="4.0"/>
<line x1="638.1" y1="1177.8" x2="638.1" y2="1190.2" stroke="#E64B35" stroke-width="4.2"/>
<line x1="750.4" y1="1177.8" x2="750.4" y2="1190.2" stroke="#E64B35" stroke-width="4.2"/>
<circle cx="697.1" cy="1184.0" r="18.4" fill="#E64B35"/>
<line x1="675.2" y1="1262.6" x2="775.4" y2="1262.6" stroke="#4DBBD5" stroke-width="4.0"/>
<line x1="677.3" y1="1256.4" x2="677.3" y2="1268.8" stroke="#4DBBD5" stroke-width="4.2"/>
<line x1="773.3" y1="1256.4" x2="773.3" y2="1268.8" stroke="#4DBBD5" stroke-width="4.2"/>
<circle cx="726.0" cy="1262.6" r="18.4" fill="#4DBBD5"/>
<line x1="651.3" y1="1309.7" x2="775.4" y2="1309.7" stroke="#E64B35" stroke-width="4.0"/>
<line x1="653.4" y1="1303.5" x2="653.4" y2="1315.9" stroke="#E64B35" stroke-width="4.2"/>
<line x1="773.3" y1="1303.5" x2="773.3" y2="1315.9" stroke="#E64B35" stroke-width="4.2"/>
<circle cx="715.2" cy="1309.7" r="18.4" fill="#E64B35"/>
<line x1="631.2" y1="1388.3" x2="755.7" y2="1388.3" stroke="#4DBBD5" stroke-width="4.0"/>
<line x1="633.3" y1="1382.1" x2="633.3" y2="1394.5" stroke="#4DBBD5" stroke-width="4.2"/>
<line x1="753.6" y1="1382.1" x2="753.6" y2="1394.5" stroke="#4DBBD5" stroke-width="4.2"/>
<circle cx="697.1" cy="1388.3" r="18.4" fill="#4DBBD5"/>
<line x1="684.1" y1="1435.2" x2="789.1" y2="1435.2" stroke="#E64B35" stroke-width="4.0"/>
<line x1="686.2" y1="1429.0" x2="686.2" y2="1441.4" stroke="#E64B35" stroke-width="4.2"/>
<line x1="787.0" y1="1429.0" x2="787.0" y2="1441.4" stroke="#E64B35" stroke-width="4.2"/>
<circle cx="741.0" cy="1435.2" r="18.4" fill="#E64B35"/>
<line x1="669.4" y1="1513.6" x2="763.3" y2="1513.6" stroke="#4DBBD5" stroke-width="4.0"/>
<line x1="671.5" y1="1507.4" x2="671.5" y2="1519.8" stroke="#4DBBD5" stroke-width="4.2"/>
<line x1="761.2" y1="1507.4" x2="761.2" y2="1519.8" stroke="#4DBBD5" stroke-width="4.2"/>
<circle cx="716.8" cy="1513.6" r="18.4" fill="#4DBBD5"/>
<line x1="642.4" y1="1560.7" x2="810.1" y2="1560.7" stroke="#E64B35" stroke-width="4.0"/>
<line x1="644.5" y1="1554.5" x2="644.5" y2="1566.9" stroke="#E64B35" stroke-width="4.2"/>
<line x1="808.0" y1="1554.5" x2="808.0" y2="1566.9" stroke="#E64B35" stroke-width="4.2"/>
<circle cx="735.3" cy="1560.7" r="18.4" fill="#E64B35"/>
<line x1="669.4" y1="1638.7" x2="763.3" y2="1638.7" stroke="#4DBBD5" stroke-width="4.0"/>
<line x1="671.5" y1="1632.5" x2="671.5" y2="1644.9" stroke="#4DBBD5" stroke-width="4.2"/>
<line x1="761.2" y1="1632.5" x2="761.2" y2="1644.9" stroke="#4DBBD5" stroke-width="4.2"/>
<circle cx="716.8" cy="1638.7" r="18.4" fill="#4DBBD5"/>
<line x1="642.4" y1="1685.8" x2="810.1" y2="1685.8" stroke="#E64B35" stroke-width="4.0"/>
<line x1="644.5" y1="1679.6" x2="644.5" y2="1692.0" stroke="#E64B35" stroke-width="4.2"/>
<line x1="808.0" y1="1679.6" x2="808.0" y2="1692.0" stroke="#E64B35" stroke-width="4.2"/>
<circle cx="735.3" cy="1685.8" r="18.4" fill="#E64B35"/>
<line x1="657.3" y1="1749.2" x2="784.4" y2="1749.2" stroke="#4DBBD5" stroke-width="4.0"/>
<line x1="659.4" y1="1745.0" x2="659.4" y2="1753.4" stroke="#4DBBD5" stroke-width="4.2"/>
<line x1="782.3" y1="1745.0" x2="782.3" y2="1753.4" stroke="#4DBBD5" stroke-width="4.2"/>
<circle cx="726.0" cy="1749.2" r="18.4" fill="#4DBBD5"/>
<line x1="657.3" y1="1788.3" x2="793.6" y2="1788.3" stroke="#E64B35" stroke-width="4.0"/>
<line x1="659.4" y1="1784.1" x2="659.4" y2="1792.5" stroke="#E64B35" stroke-width="4.2"/>
<line x1="791.5" y1="1784.1" x2="791.5" y2="1792.5" stroke="#E64B35" stroke-width="4.2"/>
<circle cx="728.9" cy="1788.3" r="18.4" fill="#E64B35"/>
<line x1="622.3" y1="1827.5" x2="778.3" y2="1827.5" stroke="#3C5488" stroke-width="4.0"/>
<line x1="624.4" y1="1823.3" x2="624.4" y2="1831.7" stroke="#3C5488" stroke-width="4.2"/>
<line x1="776.2" y1="1823.3" x2="776.2" y2="1831.7" stroke="#3C5488" stroke-width="4.2"/>
<circle cx="703.4" cy="1827.5" r="18.4" fill="#3C5488"/>
<text x="859.3" y="1148.0" font-size="37.5" font-weight="400" fill="#000" textLength="188.8" lengthAdjust="spacingAndGlyphs" stroke="#000" stroke-width="0.45">93 (90–96)</text>
<text x="859.3" y="1195.7" font-size="37.5" font-weight="400" fill="#000" textLength="188.8" lengthAdjust="spacingAndGlyphs" stroke="#000" stroke-width="0.45">90 (86–94)</text>
<text x="859.3" y="1274.0" font-size="37.5" font-weight="400" fill="#000" textLength="188.8" lengthAdjust="spacingAndGlyphs" stroke="#000" stroke-width="0.45">92 (89–95)</text>
<text x="859.3" y="1321.1" font-size="37.5" font-weight="400" fill="#000" textLength="188.8" lengthAdjust="spacingAndGlyphs" stroke="#000" stroke-width="0.45">91 (87–95)</text>
<text x="859.3" y="1399.8" font-size="37.5" font-weight="400" fill="#000" textLength="188.8" lengthAdjust="spacingAndGlyphs" stroke="#000" stroke-width="0.45">90 (86–94)</text>
<text x="859.3" y="1447.2" font-size="37.5" font-weight="400" fill="#000" textLength="188.8" lengthAdjust="spacingAndGlyphs" stroke="#000" stroke-width="0.45">93 (89–96)</text>
<text x="859.3" y="1525.7" font-size="37.5" font-weight="400" fill="#000" textLength="188.8" lengthAdjust="spacingAndGlyphs" stroke="#000" stroke-width="0.45">91 (88–94)</text>
<text x="859.3" y="1572.5" font-size="37.5" font-weight="400" fill="#000" textLength="188.8" lengthAdjust="spacingAndGlyphs" stroke="#000" stroke-width="0.45">92 (86–97)</text>
<text x="859.3" y="1650.8" font-size="37.5" font-weight="400" fill="#000" textLength="188.8" lengthAdjust="spacingAndGlyphs" stroke="#000" stroke-width="0.45">91 (88–94)</text>
<text x="859.3" y="1697.6" font-size="37.5" font-weight="400" fill="#000" textLength="188.8" lengthAdjust="spacingAndGlyphs" stroke="#000" stroke-width="0.45">92 (86–97)</text>
<text x="859.3" y="1760.6" font-size="37.5" font-weight="400" fill="#000" textLength="188.8" lengthAdjust="spacingAndGlyphs" stroke="#000" stroke-width="0.45">92 (88–96)</text>
<text x="859.3" y="1800.1" font-size="37.5" font-weight="400" fill="#000" textLength="188.8" lengthAdjust="spacingAndGlyphs" stroke="#000" stroke-width="0.45">92 (88–96)</text>
<text x="859.3" y="1839.2" font-size="37.5" font-weight="400" fill="#000" textLength="188.8" lengthAdjust="spacingAndGlyphs" stroke="#000" stroke-width="0.45">90 (85–95)</text>
<line x1="394.2" y1="1085.3" x2="394.2" y2="1866.2" stroke="#000" stroke-width="4.8"/>
<line x1="391.8" y1="1863.7" x2="1045.0" y2="1863.7" stroke="#000" stroke-width="5"/>
<line x1="394.0" y1="1863.7" x2="394.0" y2="1873.5" stroke="#333" stroke-width="4.5"/>
<text x="394.0" y="1909.1" font-size="36.5" font-weight="400" fill="#4D4D4D" text-anchor="middle">70</text>
<line x1="544.9" y1="1863.7" x2="544.9" y2="1873.5" stroke="#333" stroke-width="4.5"/>
<text x="544.9" y="1909.1" font-size="36.5" font-weight="400" fill="#4D4D4D" text-anchor="middle">80</text>
<line x1="697.1" y1="1863.7" x2="697.1" y2="1873.5" stroke="#333" stroke-width="4.5"/>
<text x="697.1" y="1909.1" font-size="36.5" font-weight="400" fill="#4D4D4D" text-anchor="middle">90</text>
<line x1="849.2" y1="1863.7" x2="849.2" y2="1873.5" stroke="#333" stroke-width="4.5"/>
<text x="849.2" y="1909.1" font-size="36.5" font-weight="400" fill="#4D4D4D" text-anchor="middle">100</text>
<text x="607.6" y="1957.2" font-size="44" font-weight="700" fill="#000" textLength="256.5" lengthAdjust="spacingAndGlyphs" stroke="#000" stroke-width="0.5">Accuracy (%)</text>
<text x="432.9" y="2017.9" font-size="31.5" font-weight="400" fill="#231F20" textLength="612.5" lengthAdjust="spacingAndGlyphs" stroke="#231F20" stroke-width="0.35">a: significantly higher than group 1, <tspan font-style="italic">p</tspan> &lt; 0.05</text>
<text x="432.9" y="2048.9" font-size="31.5" font-weight="400" fill="#231F20" textLength="612.5" lengthAdjust="spacingAndGlyphs" stroke="#231F20" stroke-width="0.35">b: significantly higher than group 2, <tspan font-style="italic">p</tspan> &lt; 0.05</text>
<text x="432.9" y="2080.5" font-size="31.5" font-weight="400" fill="#231F20" textLength="612.5" lengthAdjust="spacingAndGlyphs" stroke="#231F20" stroke-width="0.35">c: significantly higher than group 3, <tspan font-style="italic">p</tspan> &lt; 0.05</text>
<rect x="1321.8" y="1477.3" width="35.5" height="301.1" fill="#80C8E0" stroke="#000" stroke-width="3.7"/>
<rect x="1357.3" y="1532.3" width="35.5" height="246.1" fill="#EE7D5F" stroke="#000" stroke-width="3.7"/>
<rect x="1423.8" y="1525.0" width="35.5" height="253.4" fill="#80C8E0" stroke="#000" stroke-width="3.7"/>
<rect x="1459.3" y="1479.5" width="35.5" height="298.9" fill="#EE7D5F" stroke="#000" stroke-width="3.7"/>
<rect x="1525.9" y="1477.3" width="35.5" height="301.1" fill="#80C8E0" stroke="#000" stroke-width="3.7"/>
<rect x="1561.4" y="1532.4" width="35.5" height="246.0" fill="#EE7D5F" stroke="#000" stroke-width="3.7"/>
<rect x="1627.9" y="1536.5" width="35.5" height="241.9" fill="#80C8E0" stroke="#000" stroke-width="3.7"/>
<rect x="1663.4" y="1378.2" width="35.5" height="400.2" fill="#EE7D5F" stroke="#000" stroke-width="3.7"/>
<rect x="1730.0" y="1501.2" width="35.5" height="277.2" fill="#80C8E0" stroke="#000" stroke-width="3.7"/>
<rect x="1765.5" y="1481.4" width="35.5" height="297.0" fill="#EE7D5F" stroke="#000" stroke-width="3.7"/>
<rect x="1831.2" y="1618.8" width="24.0" height="159.6" fill="#80C8E0" stroke="#000" stroke-width="3.7"/>
<rect x="1855.2" y="1435.2" width="23.7" height="343.2" fill="#EE7D5F" stroke="#000" stroke-width="3.7"/>
<rect x="1878.9" y="1456.6" width="23.6" height="321.8" fill="#6A74A4" stroke="#000" stroke-width="3.7"/>
<line x1="1339.5" y1="1397.2" x2="1339.5" y2="1554.4" stroke="#000" stroke-width="4.0"/>
<line x1="1334.3" y1="1399.2" x2="1344.7" y2="1399.2" stroke="#000" stroke-width="4.1"/>
<line x1="1334.3" y1="1552.4" x2="1344.7" y2="1552.4" stroke="#000" stroke-width="4.1"/>
<line x1="1375.1" y1="1458.6" x2="1375.1" y2="1603.5" stroke="#000" stroke-width="4.0"/>
<line x1="1369.9" y1="1460.6" x2="1380.3" y2="1460.6" stroke="#000" stroke-width="4.1"/>
<line x1="1369.9" y1="1601.5" x2="1380.3" y2="1601.5" stroke="#000" stroke-width="4.1"/>
<line x1="1441.3" y1="1455.1" x2="1441.3" y2="1593.9" stroke="#000" stroke-width="4.0"/>
<line x1="1436.1" y1="1457.1" x2="1446.5" y2="1457.1" stroke="#000" stroke-width="4.1"/>
<line x1="1436.1" y1="1591.9" x2="1446.5" y2="1591.9" stroke="#000" stroke-width="4.1"/>
<line x1="1477.0" y1="1392.7" x2="1477.0" y2="1564.0" stroke="#000" stroke-width="4.0"/>
<line x1="1471.8" y1="1394.8" x2="1482.2" y2="1394.8" stroke="#000" stroke-width="4.1"/>
<line x1="1471.8" y1="1562.0" x2="1482.2" y2="1562.0" stroke="#000" stroke-width="4.1"/>
<line x1="1543.3" y1="1397.2" x2="1543.3" y2="1555.7" stroke="#000" stroke-width="4.0"/>
<line x1="1538.1" y1="1399.2" x2="1548.5" y2="1399.2" stroke="#000" stroke-width="4.1"/>
<line x1="1538.1" y1="1553.7" x2="1548.5" y2="1553.7" stroke="#000" stroke-width="4.1"/>
<line x1="1578.9" y1="1458.9" x2="1578.9" y2="1601.5" stroke="#000" stroke-width="4.0"/>
<line x1="1573.7" y1="1461.0" x2="1584.1" y2="1461.0" stroke="#000" stroke-width="4.1"/>
<line x1="1573.7" y1="1599.5" x2="1584.1" y2="1599.5" stroke="#000" stroke-width="4.1"/>
<line x1="1645.4" y1="1475.2" x2="1645.4" y2="1598.0" stroke="#000" stroke-width="4.0"/>
<line x1="1640.2" y1="1477.2" x2="1650.6" y2="1477.2" stroke="#000" stroke-width="4.1"/>
<line x1="1640.2" y1="1596.0" x2="1650.6" y2="1596.0" stroke="#000" stroke-width="4.1"/>
<line x1="1681.2" y1="1249.3" x2="1681.2" y2="1502.0" stroke="#000" stroke-width="4.0"/>
<line x1="1676.0" y1="1251.3" x2="1686.4" y2="1251.3" stroke="#000" stroke-width="4.1"/>
<line x1="1676.0" y1="1500.0" x2="1686.4" y2="1500.0" stroke="#000" stroke-width="4.1"/>
<line x1="1747.3" y1="1438.7" x2="1747.3" y2="1548.6" stroke="#000" stroke-width="4.0"/>
<line x1="1742.1" y1="1440.8" x2="1752.5" y2="1440.8" stroke="#000" stroke-width="4.1"/>
<line x1="1742.1" y1="1546.5" x2="1752.5" y2="1546.5" stroke="#000" stroke-width="4.1"/>
<line x1="1782.7" y1="1363.5" x2="1782.7" y2="1599.5" stroke="#000" stroke-width="4.0"/>
<line x1="1777.5" y1="1365.5" x2="1787.9" y2="1365.5" stroke="#000" stroke-width="4.1"/>
<line x1="1777.5" y1="1597.5" x2="1787.9" y2="1597.5" stroke="#000" stroke-width="4.1"/>
<line x1="1843.2" y1="1546.5" x2="1843.2" y2="1690.3" stroke="#000" stroke-width="4.0"/>
<line x1="1839.5" y1="1548.5" x2="1846.9" y2="1548.5" stroke="#000" stroke-width="4.1"/>
<line x1="1839.5" y1="1688.2" x2="1846.9" y2="1688.2" stroke="#000" stroke-width="4.1"/>
<line x1="1866.9" y1="1333.5" x2="1866.9" y2="1534.0" stroke="#000" stroke-width="4.0"/>
<line x1="1863.2" y1="1335.5" x2="1870.6" y2="1335.5" stroke="#000" stroke-width="4.1"/>
<line x1="1863.2" y1="1532.0" x2="1870.6" y2="1532.0" stroke="#000" stroke-width="4.1"/>
<line x1="1891.2" y1="1354.5" x2="1891.2" y2="1556.2" stroke="#000" stroke-width="4.0"/>
<line x1="1887.5" y1="1356.5" x2="1894.9" y2="1356.5" stroke="#000" stroke-width="4.1"/>
<line x1="1887.5" y1="1554.2" x2="1894.9" y2="1554.2" stroke="#000" stroke-width="4.1"/>
<text x="1340.0" y="1384.4" font-size="41.5" font-weight="400" fill="#000" text-anchor="middle">18</text>
<text x="1376.0" y="1438.8" font-size="41.5" font-weight="400" fill="#000" text-anchor="middle">15</text>
<text x="1442.3" y="1431.6" font-size="41.5" font-weight="400" fill="#000" text-anchor="middle">15</text>
<text x="1477.6" y="1386.5" font-size="41.5" font-weight="400" fill="#000" text-anchor="middle">18</text>
<text x="1543.9" y="1384.4" font-size="41.5" font-weight="400" fill="#000" text-anchor="middle">18</text>
<text x="1580.2" y="1439.2" font-size="41.5" font-weight="400" fill="#000" text-anchor="middle">15</text>
<text x="1638.5" y="1462.8" font-size="41.5" font-weight="400" fill="#000" text-anchor="middle">14</text>
<text x="1680.8" y="1240.4" font-size="41.5" font-weight="400" fill="#000" text-anchor="middle">24</text>
<text x="1747.7" y="1435.4" font-size="41.5" font-weight="400" fill="#000" text-anchor="middle">16</text>
<text x="1783.4" y="1360.2" font-size="41.5" font-weight="400" fill="#000" text-anchor="middle">18</text>
<text x="1839.2" y="1542.5" font-size="41.5" font-weight="400" fill="#000" text-anchor="middle">9</text>
<text x="1866.7" y="1314.3" font-size="41.5" font-weight="400" fill="#000" text-anchor="middle">20</text>
<text x="1891.6" y="1346.0" font-size="41.5" font-weight="400" fill="#000" text-anchor="middle">19</text>
<text x="1680.5" y="1206.5" font-size="37.5" font-weight="700" fill="#231F20" text-anchor="middle" stroke="#231F20" stroke-width="0.5">a</text>
<text x="1867.8" y="1268.6" font-size="37.5" font-weight="700" fill="#231F20" text-anchor="middle" stroke="#231F20" stroke-width="0.5">a</text>
<text x="1909.3" y="1311.9" font-size="37.5" font-weight="700" fill="#231F20" text-anchor="middle" stroke="#231F20" stroke-width="0.5">a</text>
<line x1="1296.0" y1="1189.7" x2="1296.0" y2="1780.4" stroke="#000" stroke-width="3.9"/>
<line x1="1294.0" y1="1778.5" x2="1928.0" y2="1778.5" stroke="#000" stroke-width="3.9"/>
<line x1="1285.0" y1="1189.8" x2="1296.0" y2="1189.8" stroke="#333" stroke-width="3.8"/>
<text x="1276.0" y="1201.6" font-size="31.5" font-weight="400" fill="#4D4D4D" text-anchor="end">35</text>
<line x1="1285.0" y1="1273.9" x2="1296.0" y2="1273.9" stroke="#333" stroke-width="3.8"/>
<text x="1276.0" y="1285.7" font-size="31.5" font-weight="400" fill="#4D4D4D" text-anchor="end">30</text>
<line x1="1285.0" y1="1358.0" x2="1296.0" y2="1358.0" stroke="#333" stroke-width="3.8"/>
<text x="1276.0" y="1369.8" font-size="31.5" font-weight="400" fill="#4D4D4D" text-anchor="end">25</text>
<line x1="1285.0" y1="1442.1" x2="1296.0" y2="1442.1" stroke="#333" stroke-width="3.8"/>
<text x="1276.0" y="1453.9" font-size="31.5" font-weight="400" fill="#4D4D4D" text-anchor="end">20</text>
<line x1="1285.0" y1="1526.2" x2="1296.0" y2="1526.2" stroke="#333" stroke-width="3.8"/>
<text x="1276.0" y="1538.0" font-size="31.5" font-weight="400" fill="#4D4D4D" text-anchor="end">15</text>
<line x1="1285.0" y1="1610.3" x2="1296.0" y2="1610.3" stroke="#333" stroke-width="3.8"/>
<text x="1276.0" y="1622.1" font-size="31.5" font-weight="400" fill="#4D4D4D" text-anchor="end">10</text>
<line x1="1285.0" y1="1694.4" x2="1296.0" y2="1694.4" stroke="#333" stroke-width="3.8"/>
<text x="1276.0" y="1706.2" font-size="31.5" font-weight="400" fill="#4D4D4D" text-anchor="end">5</text>
<line x1="1285.0" y1="1778.5" x2="1296.0" y2="1778.5" stroke="#333" stroke-width="3.8"/>
<text x="1276.0" y="1790.3" font-size="31.5" font-weight="400" fill="#4D4D4D" text-anchor="end">0</text>
<line x1="1357.3" y1="1778.5" x2="1357.3" y2="1789.5" stroke="#333" stroke-width="3.8"/>
<line x1="1459.3" y1="1778.5" x2="1459.3" y2="1789.5" stroke="#333" stroke-width="3.8"/>
<line x1="1561.4" y1="1778.5" x2="1561.4" y2="1789.5" stroke="#333" stroke-width="3.8"/>
<line x1="1663.4" y1="1778.5" x2="1663.4" y2="1789.5" stroke="#333" stroke-width="3.8"/>
<line x1="1765.5" y1="1778.5" x2="1765.5" y2="1789.5" stroke="#333" stroke-width="3.8"/>
<line x1="1867.0" y1="1778.5" x2="1867.0" y2="1789.5" stroke="#333" stroke-width="3.8"/>
<text transform="translate(1220.8 1713.5) rotate(-90)" font-size="43" fill="#000" stroke="#000" stroke-width="0.3" textLength="457" lengthAdjust="spacingAndGlyphs">Intermediate values (%)</text>
<text transform="translate(1376.9 1819) rotate(-45)" font-size="39.2" font-weight="700" fill="#4D4D4D" stroke="#4D4D4D" stroke-width="0.5" text-anchor="end">Sex</text>
<text transform="translate(1474.4 1819) rotate(-45)" font-size="39.2" font-weight="700" fill="#4D4D4D" stroke="#4D4D4D" stroke-width="0.5" text-anchor="end">APOE4</text>
<text transform="translate(1581.0 1819) rotate(-45)" font-size="39.2" font-weight="700" fill="#4D4D4D" stroke="#4D4D4D" stroke-width="0.5" text-anchor="end">Education</text>
<text transform="translate(1683.0 1819) rotate(-45)" font-size="39.2" font-weight="700" fill="#4D4D4D" stroke="#4D4D4D" stroke-width="0.5" text-anchor="end">CKD</text>
<text transform="translate(1785.1 1819) rotate(-45)" font-size="39.2" font-weight="700" fill="#4D4D4D" stroke="#4D4D4D" stroke-width="0.5" text-anchor="end">Diabetes</text>
<text transform="translate(1886.6 1819) rotate(-45)" font-size="39.2" font-weight="700" fill="#4D4D4D" stroke="#4D4D4D" stroke-width="0.5" text-anchor="end">Age</text>
</svg>
</body>
</html>
